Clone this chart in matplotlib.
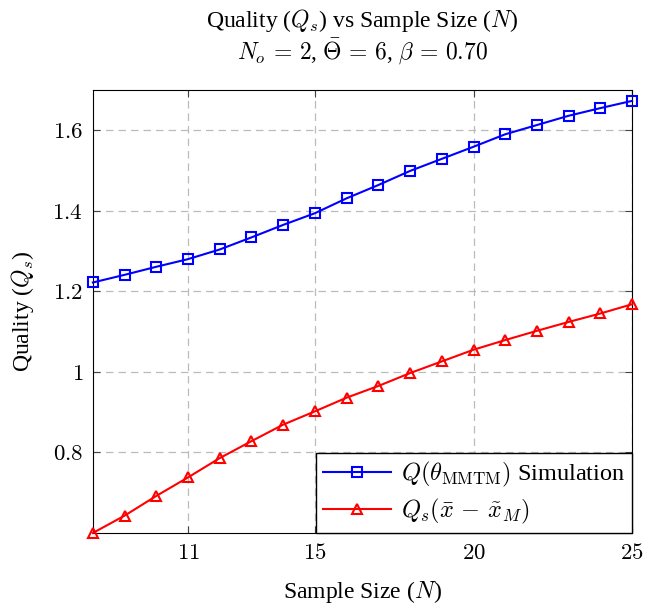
import matplotlib
matplotlib.use('Agg')
import matplotlib.pyplot as plt
import numpy as np

plt.rcParams['font.family'] = ['Liberation Serif', 'DejaVu Serif']
plt.rcParams['mathtext.fontset'] = 'cm'

# sample sizes N
n = np.arange(8, 26)
# Q(theta_MMTM) simulation
q_sim = np.array([1.222, 1.241, 1.261, 1.280, 1.304, 1.334, 1.365, 1.394, 1.431,
                  1.464, 1.499, 1.529, 1.559, 1.590, 1.613, 1.636, 1.655, 1.673])
# Q_s(xbar - xtilde_M)
q_s = np.array([0.600, 0.643, 0.692, 0.738, 0.786, 0.828, 0.869, 0.902, 0.936,
                0.965, 0.997, 1.026, 1.055, 1.079, 1.102, 1.124, 1.145, 1.168])

xticks = [11, 15, 20, 25]
yticks = [0.8, 1.0, 1.2, 1.4, 1.6]
ytick_labels = ['0.8', '1', '1.2', '1.4', '1.6']

fig = plt.figure(figsize=(6.45, 6.08), dpi=100)
ax = fig.add_axes([0.144, 0.1234, 0.836, 0.7286])

ax.plot(n, q_sim, '-', color='blue', lw=1.5, marker='s', ms=7.5, mfc='none',
        mew=1.5, label=r'$Q(\theta_{\mathrm{MMTM}})$ Simulation', clip_on=False, zorder=3)
ax.plot(n, q_s, '-', color='red', lw=1.5, marker='^', ms=7.5, mfc='none',
        mew=1.5, label=r'$Q_s(\bar{x}\,-\,\tilde{x}_M)$', clip_on=False, zorder=3)

ax.set_xlim(8, 25)
ax.set_ylim(0.6, 1.7)
ax.set_xticks(xticks)
ax.set_xticklabels(['$%d$' % t for t in xticks])
ax.set_yticks(yticks)
ax.set_yticklabels(['$%s$' % t for t in ytick_labels])
ax.tick_params(direction='in', top=True, right=True, length=5, labelsize=16.5,
               color='#444444', width=0.8, pad=7)
ax.grid(True, linestyle=(0, (6, 4)), color='#bbbbbb', lw=0.9)
ax.set_axisbelow(True)

ax.set_xlabel('Sample Size ($N$)', fontsize=17, labelpad=11)
ax.set_ylabel('Quality ($Q_s$)', fontsize=17, labelpad=12)
ax.set_title('Quality ($Q_s$) vs Sample Size ($N$)\n'
             r'$N_o\,=\,2$, $\bar{\Theta}\,=\,6$, $\beta\,=\,0.70$', fontsize=17,
             pad=22, linespacing=1.1)

leg = ax.legend(loc='lower right', fontsize=17.5, frameon=True, fancybox=False,
                edgecolor='black', framealpha=1, borderaxespad=0,
                handlelength=2.8, borderpad=0.3, labelspacing=0.3, handletextpad=0.4)
leg.get_frame().set_linewidth(1.0)

plt.savefig('out.png', dpi=100)
